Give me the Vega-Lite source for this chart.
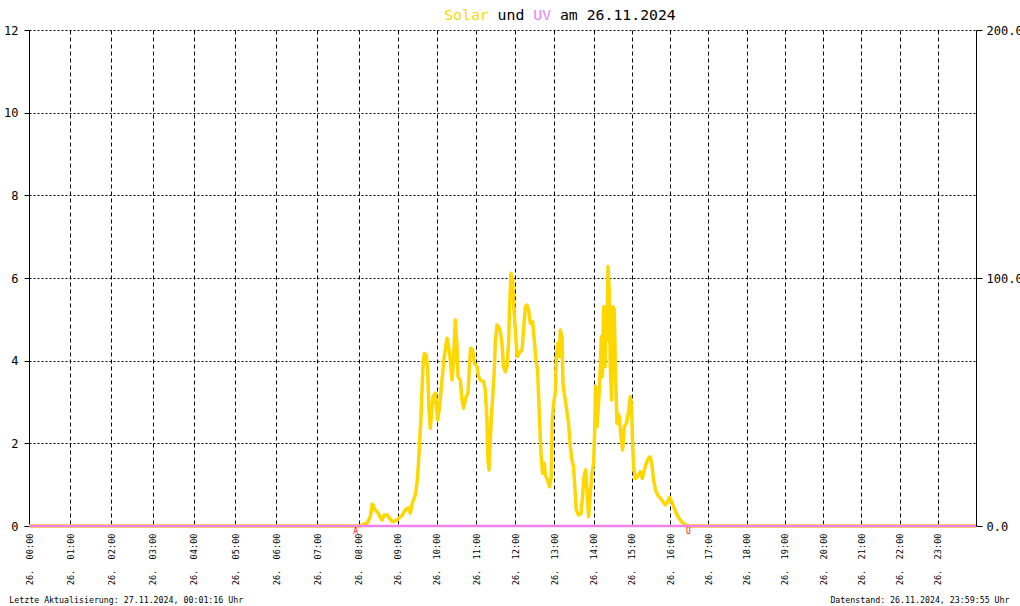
{
  "$schema": "https://vega.github.io/schema/vega-lite/v6.json",
  "width": 947,
  "height": 496,
  "autosize": "none",
  "padding": {"left": 29, "top": 30, "right": 44, "bottom": 80},
  "background": "white",
  "title": {
    "text": "Letzte Aktualisierung: 27.11.2024, 00:01:16 Uhr\u00a0\u00a0\u00a0\u00a0\u00a0\u00a0\u00a0\u00a0\u00a0\u00a0\u00a0\u00a0\u00a0\u00a0\u00a0\u00a0\u00a0\u00a0\u00a0\u00a0\u00a0\u00a0\u00a0\u00a0\u00a0\u00a0\u00a0\u00a0\u00a0\u00a0\u00a0\u00a0\u00a0\u00a0\u00a0\u00a0\u00a0\u00a0\u00a0\u00a0\u00a0\u00a0\u00a0\u00a0\u00a0\u00a0\u00a0\u00a0\u00a0\u00a0\u00a0\u00a0\u00a0\u00a0\u00a0\u00a0\u00a0\u00a0\u00a0\u00a0\u00a0\u00a0\u00a0\u00a0\u00a0\u00a0\u00a0\u00a0\u00a0\u00a0\u00a0\u00a0\u00a0\u00a0\u00a0\u00a0\u00a0\u00a0\u00a0\u00a0\u00a0\u00a0\u00a0\u00a0\u00a0\u00a0\u00a0\u00a0\u00a0\u00a0\u00a0\u00a0\u00a0\u00a0\u00a0\u00a0\u00a0\u00a0\u00a0\u00a0\u00a0\u00a0\u00a0\u00a0\u00a0\u00a0\u00a0\u00a0\u00a0\u00a0\u00a0\u00a0\u00a0\u00a0\u00a0\u00a0\u00a0\u00a0Datenstand: 26.11.2024, 23:59:55 Uhr",
    "orient": "bottom",
    "anchor": "start",
    "frame": "group",
    "dx": -19.7,
    "offset": 18,
    "baseline": "alphabetic",
    "font": "DejaVu Sans Mono",
    "fontSize": 8.27,
    "fontWeight": "normal",
    "color": "black"
  },
  "datasets": {
    "solar": [
      {"t": 0, "w": 0}, {"t": 8.04, "w": 0}, {"t": 8.128, "w": 0.7}, {"t": 8.222, "w": 1.2}, {"t": 8.299, "w": 3.8},
      {"t": 8.35, "w": 8.9}, {"t": 8.426, "w": 6.5}, {"t": 8.503, "w": 5.1}, {"t": 8.597, "w": 2.4}, {"t": 8.656, "w": 4.4},
      {"t": 8.733, "w": 4.4}, {"t": 8.86, "w": 1.7}, {"t": 8.98, "w": 2.4}, {"t": 9.116, "w": 4.4}, {"t": 9.192, "w": 6.5},
      {"t": 9.269, "w": 7.3}, {"t": 9.32, "w": 5.2}, {"t": 9.371, "w": 9.2}, {"t": 9.448, "w": 12.5}, {"t": 9.491, "w": 17.3},
      {"t": 9.524, "w": 23.9}, {"t": 9.557, "w": 33.5}, {"t": 9.593, "w": 44.1}, {"t": 9.619, "w": 54.8}, {"t": 9.644, "w": 64.2},
      {"t": 9.677, "w": 69.6}, {"t": 9.728, "w": 69.0}, {"t": 9.762, "w": 62.9}, {"t": 9.797, "w": 46.8}, {"t": 9.83, "w": 39.4},
      {"t": 9.864, "w": 45.4}, {"t": 9.899, "w": 52.1}, {"t": 9.958, "w": 53.5}, {"t": 10.017, "w": 42.7}, {"t": 10.068, "w": 48.1},
      {"t": 10.129, "w": 58.9}, {"t": 10.188, "w": 68.3}, {"t": 10.257, "w": 75.7}, {"t": 10.298, "w": 72.3}, {"t": 10.341, "w": 66.9},
      {"t": 10.385, "w": 58.9}, {"t": 10.425, "w": 66.9}, {"t": 10.469, "w": 83.1}, {"t": 10.512, "w": 72.3}, {"t": 10.538, "w": 60.2},
      {"t": 10.596, "w": 58.9}, {"t": 10.64, "w": 50.8}, {"t": 10.681, "w": 47.5}, {"t": 10.742, "w": 52.1}, {"t": 10.793, "w": 53.5},
      {"t": 10.826, "w": 62.9}, {"t": 10.859, "w": 71.7}, {"t": 10.91, "w": 71.0}, {"t": 10.961, "w": 65.6}, {"t": 11.023, "w": 64.2},
      {"t": 11.064, "w": 60.2}, {"t": 11.107, "w": 58.9}, {"t": 11.191, "w": 58.2}, {"t": 11.235, "w": 54.8}, {"t": 11.278, "w": 42.7},
      {"t": 11.304, "w": 26.6}, {"t": 11.329, "w": 22.6}, {"t": 11.355, "w": 32.0}, {"t": 11.388, "w": 44.1}, {"t": 11.431, "w": 53.5},
      {"t": 11.464, "w": 62.9}, {"t": 11.49, "w": 73.7}, {"t": 11.533, "w": 81.1}, {"t": 11.574, "w": 80.4}, {"t": 11.618, "w": 78.3},
      {"t": 11.661, "w": 73.7}, {"t": 11.702, "w": 64.2}, {"t": 11.745, "w": 62.2}, {"t": 11.789, "w": 64.2}, {"t": 11.83, "w": 73.7},
      {"t": 11.855, "w": 88.4}, {"t": 11.891, "w": 101.9}, {"t": 11.932, "w": 99.2}, {"t": 11.967, "w": 87.1}, {"t": 12.008, "w": 77.7},
      {"t": 12.044, "w": 68.3}, {"t": 12.085, "w": 69.0}, {"t": 12.128, "w": 70.3}, {"t": 12.172, "w": 71.0}, {"t": 12.212, "w": 79.0},
      {"t": 12.256, "w": 88.4}, {"t": 12.299, "w": 89.1}, {"t": 12.34, "w": 87.1}, {"t": 12.383, "w": 81.7}, {"t": 12.442, "w": 82.4},
      {"t": 12.486, "w": 75.0}, {"t": 12.529, "w": 66.9}, {"t": 12.57, "w": 62.9}, {"t": 12.613, "w": 45.4}, {"t": 12.657, "w": 29.3},
      {"t": 12.697, "w": 21.3}, {"t": 12.741, "w": 25.3}, {"t": 12.766, "w": 20.6}, {"t": 12.825, "w": 18.5}, {"t": 12.876, "w": 15.8},
      {"t": 12.92, "w": 19.9}, {"t": 12.945, "w": 42.7}, {"t": 12.978, "w": 49.5}, {"t": 13.022, "w": 53.5}, {"t": 13.047, "w": 66.9},
      {"t": 13.08, "w": 73.7}, {"t": 13.124, "w": 68.3}, {"t": 13.149, "w": 79.0}, {"t": 13.193, "w": 76.3}, {"t": 13.218, "w": 57.5},
      {"t": 13.251, "w": 53.5}, {"t": 13.302, "w": 48.1}, {"t": 13.361, "w": 41.4}, {"t": 13.405, "w": 32.0}, {"t": 13.448, "w": 26.6},
      {"t": 13.489, "w": 23.9}, {"t": 13.525, "w": 14.5}, {"t": 13.558, "w": 6.5}, {"t": 13.617, "w": 4.4}, {"t": 13.678, "w": 5.1},
      {"t": 13.719, "w": 11.8}, {"t": 13.755, "w": 19.9}, {"t": 13.796, "w": 22.6}, {"t": 13.831, "w": 14.5}, {"t": 13.872, "w": 3.8},
      {"t": 13.916, "w": 13.2}, {"t": 13.959, "w": 21.3}, {"t": 14.0, "w": 25.3}, {"t": 14.026, "w": 37.4}, {"t": 14.052, "w": 56.2},
      {"t": 14.089, "w": 40.0}, {"t": 14.131, "w": 49.5}, {"t": 14.175, "w": 64.2}, {"t": 14.201, "w": 76.3}, {"t": 14.228, "w": 60.2},
      {"t": 14.262, "w": 88.4}, {"t": 14.298, "w": 64.2}, {"t": 14.324, "w": 88.4}, {"t": 14.35, "w": 75.0}, {"t": 14.377, "w": 104.6},
      {"t": 14.411, "w": 93.8}, {"t": 14.437, "w": 64.2}, {"t": 14.471, "w": 50.8}, {"t": 14.507, "w": 88.4}, {"t": 14.541, "w": 87.1},
      {"t": 14.575, "w": 60.2}, {"t": 14.612, "w": 41.4}, {"t": 14.628, "w": 45.4}, {"t": 14.672, "w": 44.1}, {"t": 14.717, "w": 36.0},
      {"t": 14.758, "w": 30.6}, {"t": 14.803, "w": 40.0}, {"t": 14.855, "w": 41.4}, {"t": 14.907, "w": 45.4}, {"t": 14.96, "w": 52.1},
      {"t": 14.994, "w": 48.1}, {"t": 15.02, "w": 33.3}, {"t": 15.046, "w": 23.9}, {"t": 15.091, "w": 19.2}, {"t": 15.151, "w": 19.9},
      {"t": 15.221, "w": 21.9}, {"t": 15.274, "w": 19.2}, {"t": 15.326, "w": 22.6}, {"t": 15.378, "w": 25.3}, {"t": 15.431, "w": 27.3},
      {"t": 15.475, "w": 27.9}, {"t": 15.517, "w": 25.9}, {"t": 15.569, "w": 18.5}, {"t": 15.622, "w": 14.5}, {"t": 15.674, "w": 12.5},
      {"t": 15.745, "w": 11.2}, {"t": 15.815, "w": 9.8}, {"t": 15.875, "w": 8.5}, {"t": 15.936, "w": 9.8}, {"t": 15.988, "w": 11.6},
      {"t": 16.041, "w": 9.8}, {"t": 16.093, "w": 7.8}, {"t": 16.164, "w": 5.1}, {"t": 16.234, "w": 3.1}, {"t": 16.302, "w": 1.7},
      {"t": 16.373, "w": 0.8}, {"t": 16.443, "w": 0.1}, {"t": 16.5, "w": 0}, {"t": 24, "w": 0}
    ],
    "uv": [{"t": 0, "uv": 0}, {"t": 24, "uv": 0}],
    "marks": [{"t": 7.93, "m": "A"}, {"t": 16.48, "m": "U"}]
  },
  "encoding": {
    "x": {
      "field": "t",
      "type": "quantitative",
      "scale": {"type": "linear", "domain": [0, 8, 14, 24], "range": [0, 329.6, 564.6, 947], "nice": false, "zero": false},
      "axis": {
        "values": [0, 1, 2, 3, 4, 5, 6, 7, 8, 9, 10, 11, 12, 13, 14, 15, 16, 17, 18, 19, 20, 21, 22, 23],
        "labelExpr": "'26.\u00a0\u00a0' + (datum.value < 10 ? '0' : '') + datum.value + ':00'",
        "labelAngle": 270,
        "labelFont": "DejaVu Sans Mono",
        "labelFontSize": 8.6,
        "labelColor": "black",
        "labelPadding": 7,
        "labelFlush": false,
        "labelOverlap": false,
        "labelBound": false,
        "ticks": false,
        "tickSize": 0,
        "domain": false,
        "grid": true,
        "gridColor": "black",
        "gridDash": [4, 3],
        "gridWidth": 1,
        "gridOpacity": 1,
        "title": "und\u00a0\u00a0\u00a0\u00a0am\u00a026.11.2024",
        "titleFont": "DejaVu Sans Mono",
        "titleFontSize": 14.8,
        "titleFontWeight": "normal",
        "titleColor": "black",
        "titleAngle": 0,
        "titleX": 468.1,
        "titleY": -507,
        "titleAlign": "left",
        "titleBaseline": "alphabetic"
      }
    }
  },
  "layer": [
    {
      "data": {"name": "solar"},
      "mark": {"type": "line", "color": "#FFD700", "strokeWidth": 3.5, "strokeJoin": "round", "interpolate": "linear"},
      "encoding": {
        "y": {
          "field": "w",
          "type": "quantitative",
          "scale": {"domain": [0, 200], "nice": false, "zero": true},
          "axis": {
            "orient": "right",
            "values": [0, 100, 200],
            "format": ".1f",
            "grid": false,
            "domainColor": "black",
            "domainWidth": 1,
            "tickColor": "black",
            "tickSize": 6,
            "labelPadding": 4,
            "labelFont": "DejaVu Sans Mono",
            "labelFontSize": 12,
            "labelColor": "black",
            "labelFlush": false,
            "labelOverlap": false,
            "title": "Solar",
            "titleFont": "DejaVu Sans Mono",
            "titleFontSize": 14.8,
            "titleFontWeight": "normal",
            "titleColor": "#FFD700",
            "titleAngle": 0,
            "titleX": -532.35,
            "titleY": -11,
            "titleAlign": "left",
            "titleBaseline": "alphabetic"
          }
        }
      }
    },
    {
      "data": {"name": "uv"},
      "mark": {"type": "line", "color": "#EE82EE", "strokeWidth": 2.6},
      "encoding": {
        "y": {
          "field": "uv",
          "type": "quantitative",
          "scale": {"domain": [0, 12], "nice": false, "zero": true},
          "axis": {
            "orient": "left",
            "values": [0, 2, 4, 6, 8, 10, 12],
            "grid": true,
            "gridColor": "black",
            "gridDash": [2, 2],
            "gridWidth": 1,
            "gridOpacity": 1,
            "domainColor": "black",
            "domainWidth": 1,
            "tickColor": "black",
            "tickSize": 5,
            "labelPadding": 6,
            "labelFont": "DejaVu Sans Mono",
            "labelFontSize": 12,
            "labelColor": "black",
            "labelFlush": false,
            "labelOverlap": false,
            "title": "UV",
            "titleFont": "DejaVu Sans Mono",
            "titleFontSize": 14.8,
            "titleFontWeight": "normal",
            "titleColor": "#EE82EE",
            "titleAngle": 0,
            "titleX": 503.75,
            "titleY": -11,
            "titleAlign": "left",
            "titleBaseline": "alphabetic"
          }
        }
      }
    },
    {
      "data": {"name": "marks"},
      "mark": {"type": "text", "color": "red", "font": "DejaVu Sans Mono", "fontSize": 8, "baseline": "top", "dy": 2},
      "encoding": {
        "y": {"datum": 0, "type": "quantitative", "scale": {"domain": [0, 12]}, "axis": null},
        "text": {"field": "m"}
      }
    }
  ],
  "resolve": {"scale": {"y": "independent"}},
  "config": {"view": {"stroke": null}}
}
